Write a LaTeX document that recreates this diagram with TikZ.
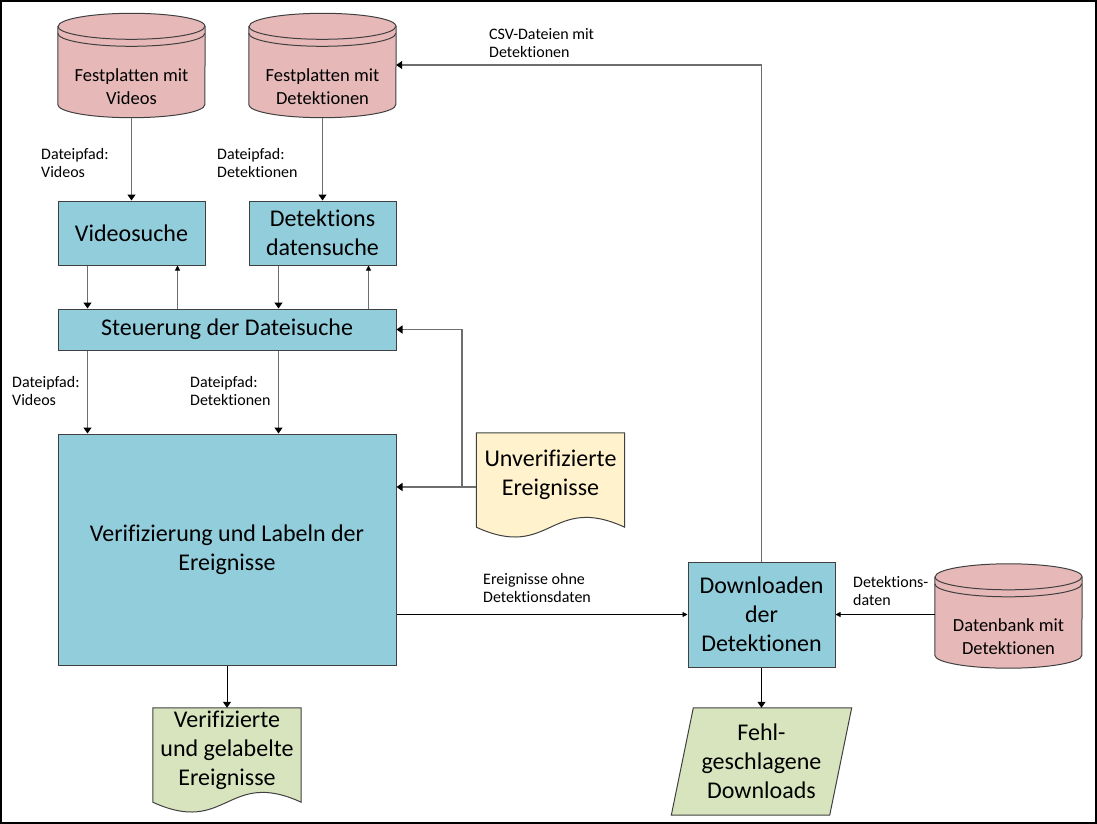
\documentclass[tikz,border=0pt]{standalone}
\usepackage{fontspec}
\setmainfont{Carlito}[Ligatures=CommonOff]
\usetikzlibrary{arrows.meta,calc,backgrounds}

\definecolor{rosa}{HTML}{E6B9B8}
\definecolor{blau}{HTML}{92CDDC}
\definecolor{gruen}{HTML}{D7E4BD}
\definecolor{gelb}{HTML}{FFF2CC}
\definecolor{rand}{HTML}{404040}
\definecolor{linie}{HTML}{6E6E6E}

\newcommand{\schriftgross}{\fontsize{24}{29}\selectfont}
\newcommand{\schriftmittel}{\fontsize{18.5}{23}\selectfont}
\newcommand{\schriftklein}{\fontsize{16}{18.5}\selectfont}

\tikzset{
  kasten/.style={draw=rand, fill=blau, line width=1pt, align=center, font=\schriftgross, inner sep=2pt},
  speicher/.style={align=center, font=\schriftmittel, inner sep=2pt, minimum width=147, minimum height=62},
  dokument/.style={align=center, font=\schriftgross, inner sep=2pt, minimum width=148, minimum height=84},
  form/.style={draw=rand, line width=1pt},
  beschriftung/.style={anchor=west, align=left, inner sep=0pt, font=\schriftklein},
  pfeil/.style={draw=linie, line width=1.3pt, -{Triangle[length=6pt,width=8pt,color=black]}},
  duenn/.style={draw=black, line width=0.8pt, -{Triangle[length=5pt,width=5pt]}}
}

\begin{document}
\begin{tikzpicture}[x=1pt,y=1pt]
\useasboundingbox (0,0) rectangle (1097,-824);
\draw[line width=1.2pt] (1,-1) rectangle (1096,-823);

% Speicher
\node[speicher] (platteV) at (131.5,-86.5) {Festplatten mit\\Videos};
\node[speicher] (platteD) at (322.5,-86.5) {Festplatten mit\\Detektionen};
\node[speicher] (dbank) at (1008.5,-637) {Datenbank mit\\Detektionen};

% Prozesse
\node[kasten, minimum width=147, minimum height=64] (vsuche) at (131.5,-233) {Videosuche};
\node[kasten, minimum width=147, minimum height=64] (dsuche) at (322.5,-233) {Detektions\\datensuche};
\node[kasten, minimum width=338, minimum height=41] (steuer) at (227,-329.5) {Steuerung der Dateisuche};
\node[kasten, minimum width=338, minimum height=231] (verif) at (227,-549.5) {Verifizierung und Labeln der\\Ereignisse};
\node[kasten, minimum width=147, minimum height=105] (dl) at (761.5,-614.5) {Downloaden\\der\\Detektionen};

% Dokumente
\node[dokument] (unver) at (550.5,-475) {Unverifizierte\\Ereignisse};
\node[dokument] (verifd) at (227,-750) {Verifizierte\\und gelabelte\\Ereignisse};
\node[dokument, minimum width=158, minimum height=107] (fehl) at (761.5,-761.5) {Fehl-\\geschlagene\\Downloads};

\begin{pgfonlayer}{background}
\foreach \n in {platteV,platteD,dbank} {
  \filldraw[form, fill=rosa] ($(\n.north west)+(0,29)$) -- ($(\n.south west)+(0,13)$)
    arc[start angle=180, end angle=360, x radius=73.5, y radius=13]
    -- ($(\n.north east)+(0,29)$)
    arc[start angle=0, end angle=180, x radius=73.5, y radius=13];
  \draw[form] ($(\n.north west)+(0,29)$) arc[start angle=180, end angle=360, x radius=73.5, y radius=13];
  \draw[form] ($(\n.north west)+(0,22)$) arc[start angle=180, end angle=360, x radius=73.5, y radius=13];
}
\foreach \n/\f in {unver/gelb, verifd/gruen} {
  \filldraw[form, fill=\f] (\n.north west) -- (\n.north east) -- ($(\n.south east)+(0,-10)$)
    .. controls ($(\n.south)+(0,24)$) and ($(\n.south)+(0,-44)$) .. ($(\n.south west)+(0,-10)$) -- cycle;
}
\filldraw[form, fill=gruen] ($(fehl.north west)+(11,0)$) -- ($(fehl.north east)+(11,0)$)
  -- ($(fehl.south east)+(-11,0)$) -- ($(fehl.south west)+(-11,0)$) -- cycle;
\end{pgfonlayer}

% Verbindungen
\draw[pfeil] (platteV.south) -- (vsuche.north);
\draw[pfeil] (platteD.south) -- (dsuche.north);
\foreach \n in {vsuche,dsuche} {
  \coordinate (\n ab) at ($(\n.south west)+(30,0)$);
  \coordinate (\n auf) at ($(\n.south east)+(-28,0)$);
  \draw[pfeil] (\n ab) -- (\n ab |- steuer.north);
  \draw[pfeil, line width=1pt, -{Triangle[length=5pt,width=5pt,color=black]}] (\n auf |- steuer.north) -- (\n auf);
  \draw[pfeil] (\n ab |- steuer.south) -- (\n ab |- verif.north);
}
\coordinate (knoten) at (462,-487);
\draw[pfeil] (unver.west |- knoten) -- (knoten -| verif.east);
\draw[pfeil] (knoten) |- (steuer.east);
\draw[duenn] (verif.east |- dl.west) -- (dl.west);
\draw[duenn] (dbank.west |- dl.east) -- (dl.east);
\draw[pfeil] (dl.north) |- ([yshift=21.5pt]platteD.east);
\draw[pfeil, draw=black, line width=1pt] (verif.south) -- (verifd.north);
\draw[pfeil, draw=black, line width=1pt] (dl.south) -- (fehl.north);

% Beschriftungen
\node[beschriftung] (lblV1) at (41,-163) {Dateipfad:\\Videos};
\node[beschriftung] (lblD1) at (217,-163) {Dateipfad:\\Detektionen};
\node[beschriftung] (lblV2) at (12,-391) {Dateipfad:\\Videos};
\node[beschriftung] (lblD2) at (190,-391) {Dateipfad:\\Detektionen};
\node[beschriftung] (lblCSV) at (489,-43) {CSV-Dateien mit\\Detektionen};
\node[beschriftung] (lblOhne) at (483,-588) {Ereignisse ohne\\Detektionsdaten};
\node[beschriftung] (lblDB) at (853,-591) {Detektions-\\daten};
\end{tikzpicture}
\end{document}
